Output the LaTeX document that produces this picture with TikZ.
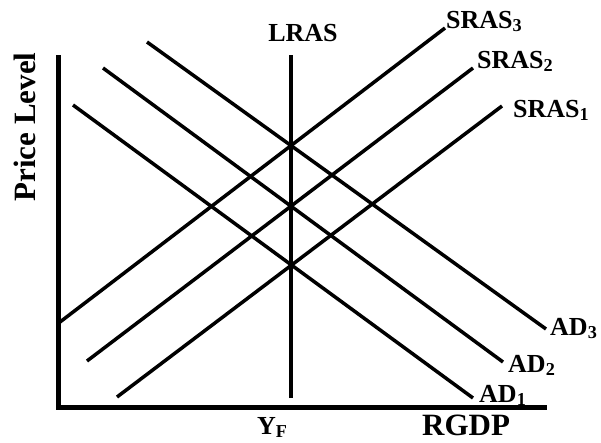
\documentclass[tikz,border=0pt]{standalone}
\usepackage{fontspec}
\setmainfont{Liberation Serif}
\begin{document}
\begin{tikzpicture}[x=1pt,y=-1pt,
  curve/.style={line width=3.5pt},
  axis/.style={line width=5pt, line join=miter},
  lbl/.style={font=\bfseries\fontsize{26}{26}\selectfont, inner sep=0pt, anchor=base west},
  big/.style={font=\bfseries\fontsize{31}{31}\selectfont, inner sep=0pt}]
\useasboundingbox (0,0) rectangle (601,442);
\coordinate (o) at (58,407);
\coordinate (ytop) at (58,55);
\coordinate (xend) at (547,407);
\coordinate (l0) at (291,398);
\coordinate (l1) at (291,55);
\coordinate (s3a) at (60,322);
\coordinate (s3b) at (445,28);
\coordinate (s2a) at (87,361);
\coordinate (s2b) at (473,68);
\coordinate (s1a) at (117,397);
\coordinate (s1b) at (502,106);
\coordinate (d3a) at (147,42);
\coordinate (d3b) at (546,329);
\coordinate (d2a) at (103,68);
\coordinate (d2b) at (503,362);
\coordinate (d1a) at (73,105);
\coordinate (d1b) at (473,398);
\draw[curve] (l0) -- (l1);
\draw[curve] (s3a) -- (s3b);
\draw[curve] (s2a) -- (s2b);
\draw[curve] (s1a) -- (s1b);
\draw[curve] (d3a) -- (d3b);
\draw[curve] (d2a) -- (d2b);
\draw[curve] (d1a) -- (d1b);
\node[lbl, anchor=base] (lras) at (303,41) {LRAS};
\node[lbl] (sras3) at (446,28) {SRAS\textsubscript{3}};
\node[lbl] (sras2) at (477,68) {SRAS\textsubscript{2}};
\node[lbl] (sras1) at (513,117) {SRAS\textsubscript{1}};
\node[lbl] (ad3) at (550,335) {AD\textsubscript{3}};
\node[lbl] (ad2) at (508,372) {AD\textsubscript{2}};
\node[lbl] (ad1) at (479,402) {AD\textsubscript{1}};
\node[lbl] (yf) at (257,434) {Y\textsubscript{F}};
\node[big, anchor=base west] (rgdp) at (422,435) {RGDP};
\node[big, rotate=90] (price) at (25,127) {Price Level};
\draw[axis] (ytop) -- (o) -- (xend);
\end{tikzpicture}
\end{document}
